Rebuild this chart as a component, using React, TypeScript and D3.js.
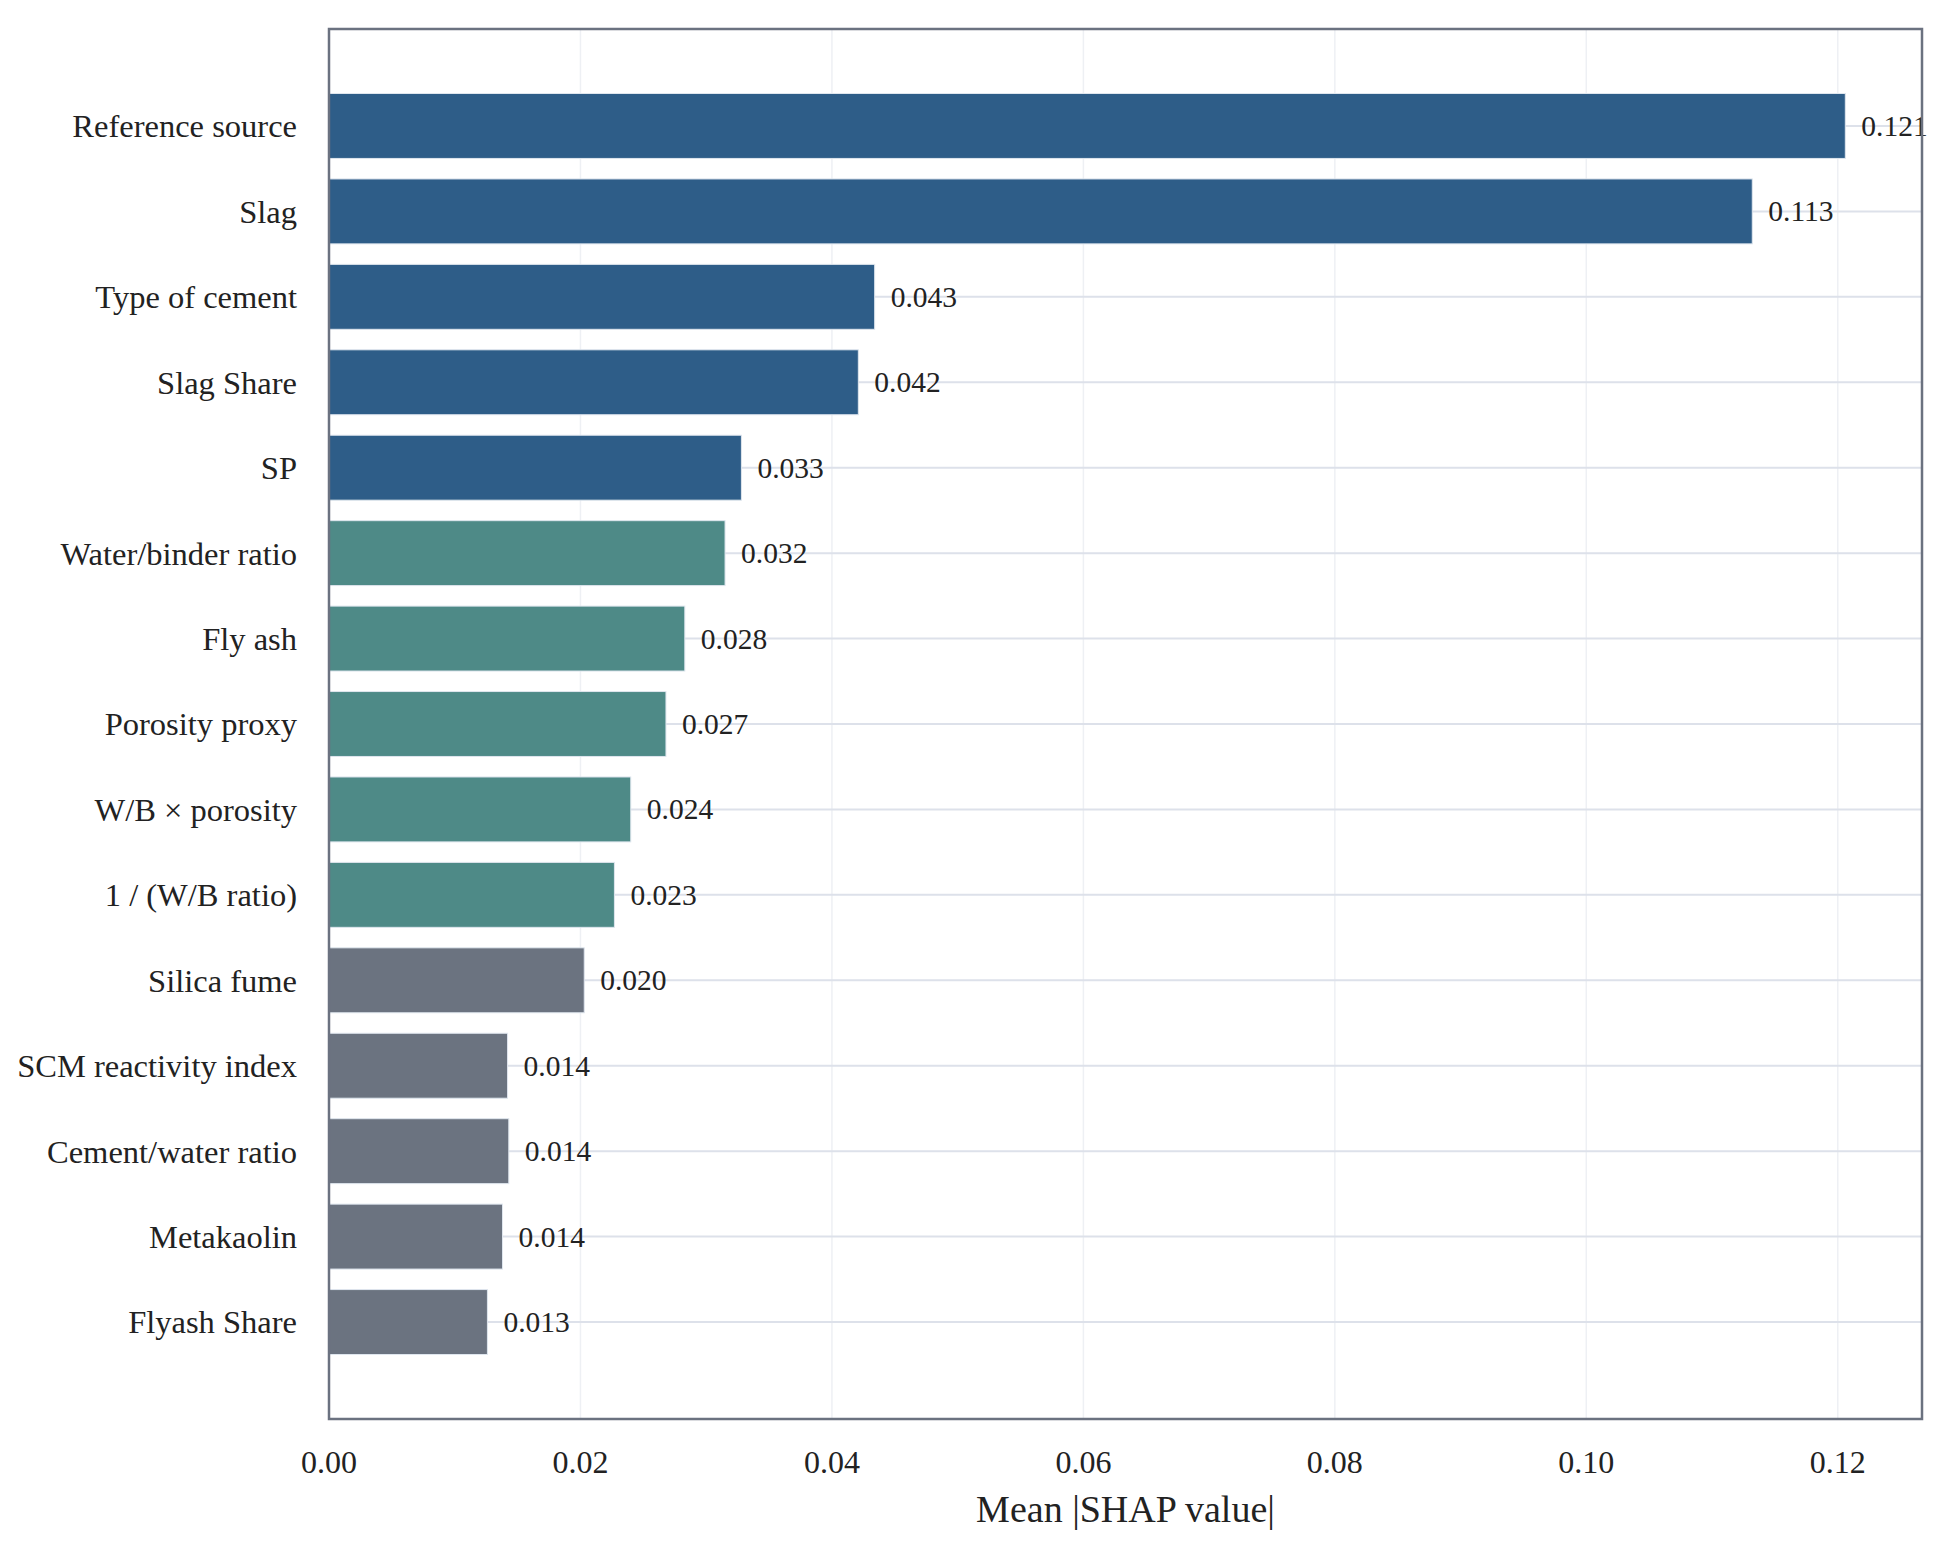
import React, { useMemo } from 'react';
import * as d3 from 'd3';

const features = [
  'Reference source',
  'Slag',
  'Type of cement',
  'Slag Share',
  'SP',
  'Water/binder ratio',
  'Fly ash',
  'Porosity proxy',
  'W/B × porosity',
  '1 / (W/B ratio)',
  'Silica fume',
  'SCM reactivity index',
  'Cement/water ratio',
  'Metakaolin',
  'Flyash Share',
];

const meanShap = [
  0.1206, 0.1132, 0.0434, 0.0421, 0.0328, 0.0315, 0.0283, 0.0268, 0.024, 0.0227,
  0.0203, 0.0142, 0.0143, 0.0138, 0.0126,
];

const groups = [0, 0, 0, 0, 0, 1, 1, 1, 1, 1, 2, 2, 2, 2, 2];
const groupColors = ['#2e5d88', '#4e8a87', '#6b7380'];

const xTicks = [0, 0.02, 0.04, 0.06, 0.08, 0.1, 0.12];

const W = 1942;
const H = 1544;
const margin = { top: 29, right: 20, bottom: 125, left: 329 };
const font = '"Liberation Serif", "Times New Roman", serif';

export default function App() {
  const innerW = W - margin.left - margin.right;
  const innerH = H - margin.top - margin.bottom;

  const x = useMemo(() => d3.scaleLinear().domain([0, 0.1267]).range([0, innerW]), [innerW]);
  const y = useMemo(
    () =>
      d3.scaleBand<string>()
        .domain(features)
        .range([0, innerH])
        .paddingInner(0.24)
        .paddingOuter(0.755),
    [innerH]
  );
  // labels are rounded to 3 places, as in the source figure
  const fmt = (v: number) => (Math.round(v * 1000) / 1000).toFixed(3);
  const tickFmt = d3.format('.2f');

  return (
    <div style={{ position: 'absolute', left: 0, top: 0, background: '#fff' }}>
      <svg width={W} height={H} style={{ display: 'block', fontFamily: font }}>
        <rect width={W} height={H} fill="#fff" />
        <g transform={`translate(${margin.left},${margin.top})`}>
          {/* vertical grid */}
          {xTicks.map((t) => (
            <line key={`vg-${t}`} x1={x(t)} x2={x(t)} y1={0} y2={innerH} stroke="#eef0f4" strokeWidth={1.5} />
          ))}
          {/* horizontal category grid */}
          {features.map((f) => {
            const cy = (y(f) ?? 0) + y.bandwidth() / 2;
            return <line key={`hg-${f}`} x1={0} x2={innerW} y1={cy} y2={cy} stroke="#dde1ea" strokeWidth={2} />;
          })}
          {/* bars */}
          {features.map((f, i) => (
            <rect
              key={`bar-${f}`}
              x={0}
              y={y(f)}
              width={x(meanShap[i])}
              height={y.bandwidth()}
              fill={groupColors[groups[i]]}
              stroke="#dfe6ee"
              strokeWidth={1}
            />
          ))}
          {/* value labels */}
          {features.map((f, i) => (
            <text
              key={`val-${f}`}
              x={x(meanShap[i]) + 16}
              y={(y(f) ?? 0) + y.bandwidth() / 2}
              dominantBaseline="central"
              fontSize={29.5}
              fill="#222"
            >
              {fmt(meanShap[i])}
            </text>
          ))}
          {/* category labels */}
          {features.map((f) => (
            <text
              key={`lab-${f}`}
              x={-32}
              y={(y(f) ?? 0) + y.bandwidth() / 2}
              dy="0.35em"
              textAnchor="end"
              fontSize={32.5}
              fill="#222"
            >
              {f}
            </text>
          ))}
          {/* frame */}
          <rect x={0} y={0} width={innerW} height={innerH} fill="none" stroke="#6b7280" strokeWidth={2.5} />
          {/* x tick labels */}
          {xTicks.map((t) => (
            <text key={`xt-${t}`} x={x(t)} y={innerH + 54} textAnchor="middle" fontSize={32} fill="#222">
              {tickFmt(t)}
            </text>
          ))}
          <text x={innerW / 2} y={innerH + 103} textAnchor="middle" fontSize={38} fill="#222">
            Mean |SHAP value|
          </text>
        </g>
      </svg>
    </div>
  );
}
